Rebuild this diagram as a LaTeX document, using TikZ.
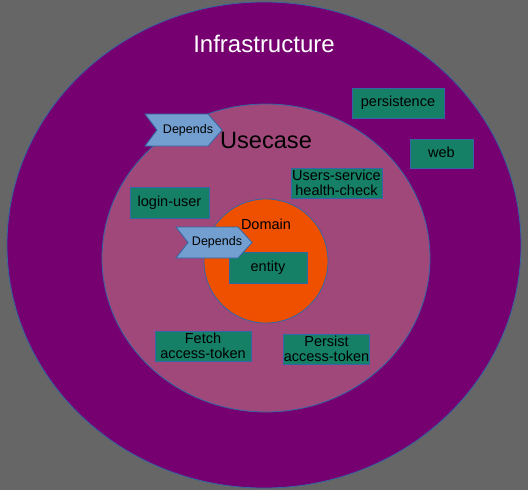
\documentclass[tikz,border=0pt]{standalone}
\usepackage{fontspec}
\setmainfont{Liberation Sans}
\definecolor{bg}{HTML}{666666}
\definecolor{infra}{HTML}{770070}
\definecolor{usec}{HTML}{A0487A}
\definecolor{dom}{HTML}{EE5000}
\definecolor{boxc}{HTML}{158066}
\definecolor{edge}{HTML}{3465A4}
\definecolor{chev}{HTML}{729FCF}
\begin{document}
\begin{tikzpicture}[x=1pt,y=-1pt,
  layer/.style={draw=edge,line width=0.8pt},
  compbox/.style={draw=edge,fill=boxc,line width=0.8pt,inner sep=0pt,align=center,
     font=\fontsize{14.5}{15}\selectfont,text=black},
  oneline/.style={text height=9pt,text depth=2pt},
  chevshape/.style={draw=edge,fill=chev,line width=0.8pt},
  chevtext/.style={font=\fontsize{12.5}{14}\selectfont,text=black,inner sep=0pt,text height=8pt,text depth=2pt}]
\fill[bg] (0,0) rectangle (528,490);
\useasboundingbox (0,0) rectangle (528,490);
% layers
\draw[layer,fill=infra] (264,245) ellipse [x radius=257, y radius=243];
\draw[layer,fill=usec] (266,258) ellipse [x radius=164, y radius=154];
\draw[layer,fill=dom] (266,261) circle [radius=62];
% titles
\node[font=\fontsize{24}{26}\selectfont,text=white] (infratitle) at (264,44) {Infrastructure};
\node[font=\fontsize{23.6}{26}\selectfont,text=black] (usetitle) at (266,140) {Usecase};
\node[font=\fontsize{14.5}{16}\selectfont,text=black] (domtitle) at (266,224) {Domain};
% boxes
\node[compbox,oneline,minimum width=92,minimum height=30] (persistence) at (398,103) {persistence};
\node[compbox,oneline,minimum width=63,minimum height=29] (web) at (441.5,153.5) {web};
\node[compbox,minimum width=91,minimum height=30] (health) at (336.5,183) {Users-service\\health-check};
\node[compbox,oneline,minimum width=79,minimum height=31] (login) at (169.5,202.5) {login-user};
\node[compbox,oneline,minimum width=78,minimum height=31] (entity) at (268,267.5) {entity};
\node[compbox,minimum width=96,minimum height=30] (fetch) at (203,346) {Fetch\\access-token};
\node[compbox,minimum width=85,minimum height=30] (persist) at (326.5,349) {Persist\\access-token};
% depends chevrons
\draw[chevshape] (145,114) -- (208,114) -- (222,130) -- (208,146) -- (145,146) -- (157,130) -- cycle;
\node[chevtext] (dep1) at (188,130) {Depends};
\draw[chevshape] (176,227) -- (238,227) -- (252,242.5) -- (238,258) -- (176,258) -- (188,242.5) -- cycle;
\node[chevtext] (dep2) at (217,242.5) {Depends};
\end{tikzpicture}
\end{document}
